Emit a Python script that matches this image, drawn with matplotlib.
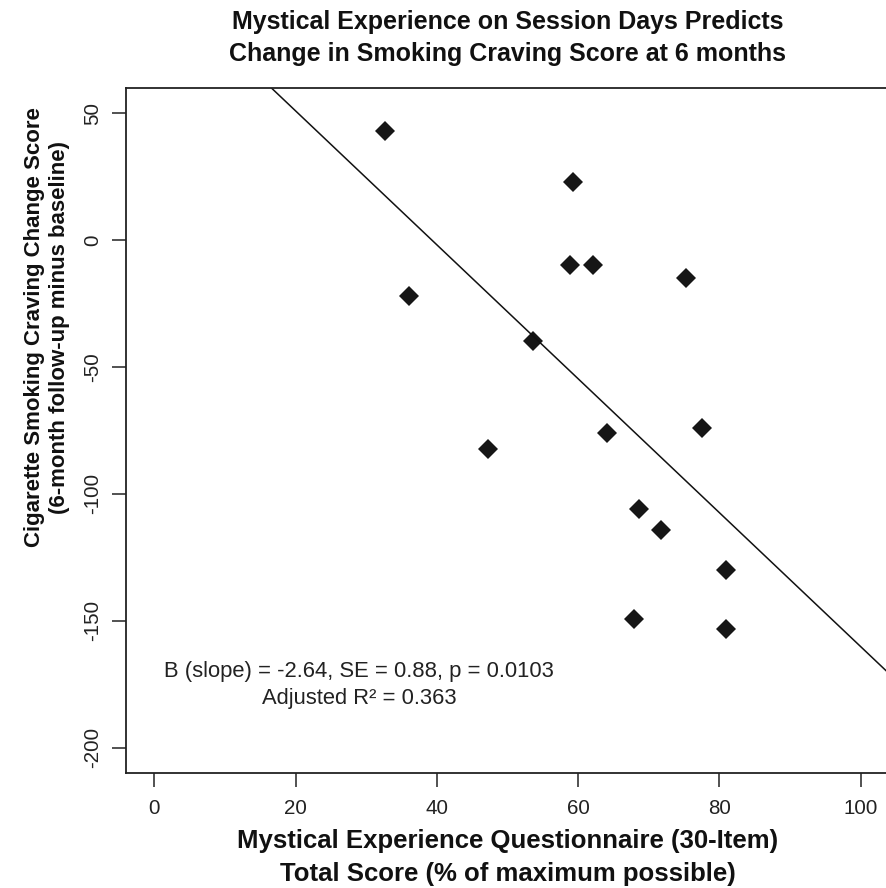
import numpy as np
import matplotlib
matplotlib.use("Agg")
import matplotlib.pyplot as plt

# %% Data
meq_score = [32.6, 59.3, 58.8, 62.1, 36.0, 53.6, 47.3, 64.1, 77.5, 68.6,
             75.3, 71.7, 80.9, 80.9, 67.9]
craving_change = [43.0, 23.1, -9.9, -9.9, -22.0, -39.8, -82.2, -76.1, -74.1,
                  -106.1, -15.0, -114.2, -130.1, -153.2, -149.3]
x_ticks = [0, 20, 40, 60, 80, 100]
y_ticks = [50, 0, -50, -100, -150, -200]
fit_slope = -2.64

plt.rcParams['font.family'] = ['Liberation Sans', 'DejaVu Sans']

W, H = 887, 888

def px(xp, yp):
    """pixel position (from top-left) -> figure fraction"""
    return xp / W, 1 - yp / H

# %% Plot
fig = plt.figure(figsize=(W / 100, H / 100), dpi=100)
ax = fig.add_axes([126 / W, 1 - 773 / H, 763 / W, 685 / H])

x = np.array(meq_score)
y = np.array(craving_change)
ax.plot(x, y, linestyle='none', marker='D', markersize=10.5,
        color='#161616', markeredgewidth=0)

# regression line (abline), slope from the fit, through the data means
b0 = y.mean() - fit_slope * x.mean()
xl = np.array([-10, 110])
ax.plot(xl, b0 + fit_slope * xl, color='#111111', linewidth=1.1)

ax.set_xlim(-4, 104)
ax.set_ylim(-210, 60)
ax.set_xticks(x_ticks)
ax.set_yticks(y_ticks)
ax.set_yticklabels([str(v) for v in y_ticks], rotation=90, va='center')
ax.tick_params(direction='out', length=10, width=1.1, labelsize=14.8,
               colors='#222222')
ax.tick_params(axis='x', pad=9)
ax.tick_params(axis='y', pad=7)
for s in ['left', 'bottom', 'top']:
    ax.spines[s].set_linewidth(1.3)
    ax.spines[s].set_color('#222222')
ax.spines['right'].set_visible(False)

# axis labels
lab = dict(fontweight='bold', color='#111111')
fig.text(*px(507.5, 848), 'Mystical Experience Questionnaire (30-Item)',
         ha='center', va='baseline', fontsize=18.5, **lab)
fig.text(*px(507.5, 881), 'Total Score (% of maximum possible)',
         ha='center', va='baseline', fontsize=18.5, **lab)
fig.text(*px(40, 327), 'Cigarette Smoking Craving Change Score',
         ha='center', va='baseline', rotation=90, fontsize=16,
         rotation_mode='anchor', **lab)
fig.text(*px(65, 327), '(6-month follow-up minus baseline)',
         ha='center', va='baseline', rotation=90, fontsize=16,
         rotation_mode='anchor', **lab)

# annotation
ax.text(29, -170, 'B (slope) = -2.64, SE = 0.88, p = 0.0103',
        ha='center', va='center', fontsize=15.8, color='#222222')
ax.text(29, -180.5, 'Adjusted R\u00b2 = 0.363',
        ha='center', va='center', fontsize=15.8, color='#222222')

# title
fig.text(*px(507.5, 29), 'Mystical Experience on Session Days Predicts',
         ha='center', va='baseline', fontsize=18, **lab)
fig.text(*px(507.5, 61), 'Change in Smoking Craving Score at 6 months',
         ha='center', va='baseline', fontsize=18, **lab)

fig.savefig('out.png', dpi=100)
